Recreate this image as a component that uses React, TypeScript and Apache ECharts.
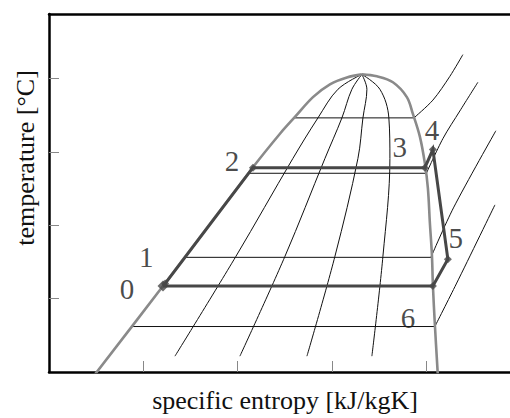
import React, { useEffect, useRef } from "react";
import * as echarts from "echarts";

// Axis extents (arbitrary units, ticks at whole numbers)
const S_MAX = 4.89;
const T_MAX = 4.88;
const S_TICKS = [1, 2, 3, 4];
const T_TICKS = [1, 2, 3, 4];

// Saturation dome: liquid branch up to the critical point, then vapour branch down
const domeLiquid: [number, number][] = [
  [0.467, -0.067], [1.209, 1.173], [2.163, 2.79], [2.45, 3.248], [2.609, 3.477],
  [2.8, 3.747], [2.98, 3.922], [3.16, 4.016], [3.319, 4.057],
];
const domeVapour: [number, number][] = [
  [3.319, 4.057], [3.478, 4.03], [3.648, 3.949], [3.796, 3.747], [3.86, 3.518],
  [3.934, 3.208], [3.987, 2.844], [4.019, 2.507], [4.04, 2.035], [4.062, 1.59],
  [4.072, 1.186], [4.093, 0.647], [4.125, -0.054],
];

// Isobars: two-phase (horizontal) part and superheated part
const isobarWet: [number, number][][] = [
  [[2.598, 3.464], [3.871, 3.464]],
  [[2.116, 2.709], [4.003, 2.709]],
  [[1.453, 1.563], [4.051, 1.563]],
  [[0.87, 0.62], [4.093, 0.62]],
];
const isobarSuperheated: [number, number][][] = [
  [[3.871, 3.464], [4.072, 3.706], [4.252, 4.03], [4.39, 4.326]],
  [[4.003, 2.709], [4.178, 3.181], [4.358, 3.558], [4.549, 3.949]],
  [[4.051, 1.563], [4.29, 2.237], [4.74, 3.288]],
  [[4.093, 0.62], [4.32, 1.2], [4.73, 2.278]],
];

// Lines of constant vapour quality, fanning out from the critical point
const qualityLines: [number, number][][] = [
  [[3.319, 4.057], [3.065, 3.854], [2.853, 3.464], [2.587, 2.911], [1.983, 1.577], [1.336, 0.216]],
  [[3.319, 4.057], [3.213, 3.854], [3.107, 3.464], [2.927, 2.911], [2.503, 1.577], [2.025, 0.216]],
  [[3.319, 4.057], [3.372, 3.854], [3.33, 3.464], [3.277, 2.911], [3.033, 1.577], [2.736, 0.216]],
  [[3.319, 4.057], [3.51, 3.854], [3.605, 3.464], [3.616, 2.911], [3.542, 1.577], [3.425, 0.216]],
];

// Cycle state points 0..6
const stateNames = ["0", "1", "2", "3", "4", "5", "6"];
const stateS = [1.209, 1.232, 2.163, 3.987, 4.072, 4.231, 4.072];
const stateT = [1.173, 1.205, 2.785, 2.785, 3.032, 1.536, 1.173];

// Label offsets (px) around each state point
const labelOffsets: [number, number][] = [
  [-36, 3], [-19, -27], [-21, -7], [-25, -21], [-1, -20], [8, -21], [-25, 32],
];

const SERIF = "'Liberation Serif', 'DejaVu Serif', serif";

export default function App() {
  const ref = useRef<HTMLDivElement>(null);

  useEffect(() => {
    if (!ref.current) return;
    const chart = echarts.init(ref.current, undefined, { renderer: "svg" });

    const thin = (data: [number, number][], smooth: number | boolean) => ({
      type: "line",
      data,
      smooth,
      symbol: "none",
      silent: true,
      lineStyle: { color: "#111", width: 1 },
      z: 2,
    });

    const cyclePath: [number, number][] = [0, 1, 2, 3, 4, 5, 6, 0].map((i) => [stateS[i], stateT[i]]);

    const option: any = {
      animation: false,
      backgroundColor: "#fff",
      grid: { left: 49, top: 14, right: 0, bottom: 42 },
      xAxis: [
        {
          type: "value",
          min: 0,
          max: S_MAX,
          offset: 2,
          name: "specific entropy [kJ/kgK]",
          nameLocation: "middle",
          nameGap: 13,
          nameTextStyle: { fontFamily: SERIF, fontSize: 26, color: "#111", padding: [0, 0, 0, 11] },
          axisLine: { show: true, lineStyle: { color: "#000", width: 2.5 } },
          axisTick: { show: true, inside: true, length: 11, customValues: S_TICKS, lineStyle: { color: "#888", width: 1 } },
          axisLabel: { show: false },
          splitLine: { show: false },
        },
        {
          type: "value",
          position: "top",
          min: 0,
          max: S_MAX,
          axisLine: { show: true, lineStyle: { color: "#000", width: 2.5 } },
          axisTick: { show: false },
          axisLabel: { show: false },
          splitLine: { show: false },
        },
      ],
      yAxis: {
        type: "value",
        min: 0,
        max: T_MAX,
        name: "temperature [°C]",
        nameLocation: "middle",
        nameGap: 11,
        nameTextStyle: { fontFamily: SERIF, fontSize: 26, color: "#111", padding: [0, 0, 0, 70] },
        axisLine: { show: true, lineStyle: { color: "#000", width: 2.5 } },
        axisTick: { show: true, inside: true, length: 10, customValues: T_TICKS, lineStyle: { color: "#888", width: 1 } },
        axisLabel: { show: false },
        splitLine: { show: false },
      },
      series: [
        ...qualityLines.map((q) => thin(q, 0.35)),
        ...isobarWet.map((p) => thin(p, false)),
        ...isobarSuperheated.map((p) => thin(p, 0.3)),
        {
          type: "line",
          data: domeLiquid,
          smooth: 0.35,
          symbol: "none",
          silent: true,
          lineStyle: { color: "#8a8a8a", width: 2.6 },
          z: 3,
        },
        {
          type: "line",
          data: domeVapour,
          smooth: 0.35,
          symbol: "none",
          silent: true,
          lineStyle: { color: "#8a8a8a", width: 2.6 },
          z: 3,
        },
        {
          type: "line",
          data: cyclePath,
          symbol: "none",
          silent: true,
          lineStyle: { color: "#474747", width: 3, join: "miter" },
          z: 4,
        },
        {
          type: "scatter",
          silent: true,
          symbol: "diamond",
          z: 5,
          data: stateNames.map((name, i) => ({
            name,
            value: [stateS[i], stateT[i]],
            symbolSize: i === 0 ? 11 : 8,
            label: {
              show: true,
              formatter: name,
              position: "inside",
              offset: labelOffsets[i],
            },
          })),
          itemStyle: { color: "#474747" },
          label: {
            fontFamily: SERIF,
            fontSize: 29,
            color: "#1a1a1a",
            align: "center",
            verticalAlign: "middle",
          },
        },
      ],
    };

    chart.setOption(option);
    return () => chart.dispose();
  }, []);

  return (
    <div
      ref={ref}
      style={{ position: "fixed", left: 0, top: 0, width: 510, height: 418, overflow: "hidden" }}
    />
  );
}
